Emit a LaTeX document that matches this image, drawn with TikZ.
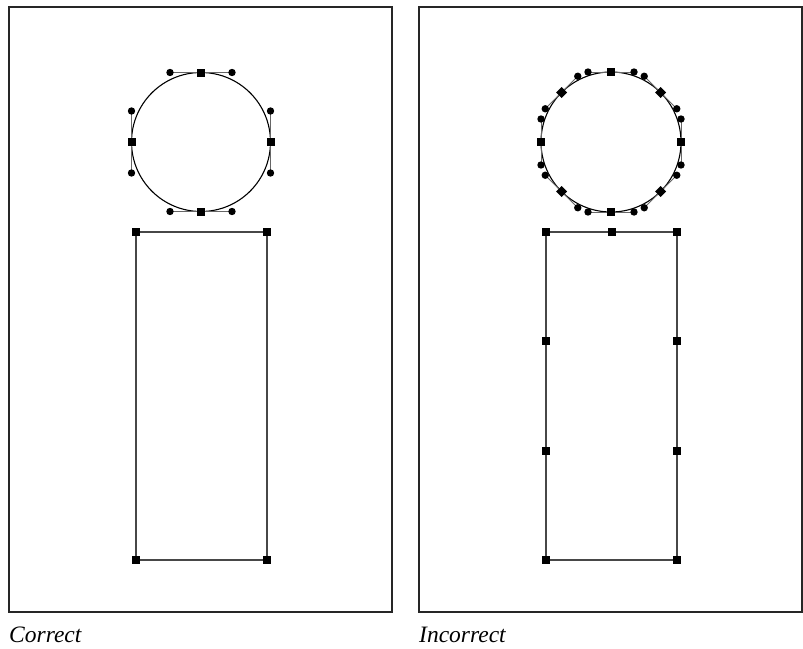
\documentclass[tikz,border=0pt]{standalone}
\usepackage{fontspec}
\newfontfamily\capfont{Liberation Serif}
\usetikzlibrary{calc}
\tikzset{
  frame/.style={line width=1.1pt, color=black!85},
  outline/.style={line width=1.3pt, color=black!72},
  handle/.style={line width=1pt, color=black!60},
  caption/.style={font=\capfont\fontsize{23.5}{27}\selectfont\itshape, anchor=base west, inner sep=0pt},
}
\newcommand{\knotsq}[1]{\fill #1 +(-4,-4) rectangle +(4,4);}
\newcommand{\knotdm}[1]{\fill #1 +(-5.5,0) -- +(0,-5.5) -- +(5.5,0) -- +(0,5.5) -- cycle;}
\newcommand{\ctrldot}[1]{\fill #1 circle (3.7);}
\begin{document}
\begin{tikzpicture}[x=1pt,y=-1pt]
  \useasboundingbox (0,0) rectangle (803,648);
  % panels
  \draw[frame] (9,7) rectangle (392,612);
  \draw[frame] (419,7) rectangle (802,612);
  \node[caption] (correct) at (9,642) {Correct};
  \node[caption] (incorrect) at (419,642) {Incorrect};

  % left: circle from four segments
  \draw[line width=1.1pt] (201,142) circle (69.5);
  \foreach \a in {0,90,180,270} {
    \draw[handle] ($(201,142)+(\a:69.5)+(\a+90:31)$) -- ($(201,142)+(\a:69.5)+(\a-90:31)$);
    \ctrldot{($(201,142)+(\a:69.5)+(\a+90:31)$)}
    \ctrldot{($(201,142)+(\a:69.5)+(\a-90:31)$)}
    \knotsq{($(201,142)+(\a:69.5)$)}
  }
  \draw[outline] (136,232) rectangle (267,560);
  \foreach \x/\y in {136/232,267/232,136/560,267/560} {
    \knotsq{(\x,\y)}
  }

  % right: circle from eight segments
  \draw[line width=1.1pt] (611,142) circle (70);
  \foreach \a in {0,45,...,315} {
    \draw[handle] ($(611,142)+(\a:70)+(\a+90:23)$) -- ($(611,142)+(\a:70)+(\a-90:23)$);
    \ctrldot{($(611,142)+(\a:70)+(\a+90:23)$)}
    \ctrldot{($(611,142)+(\a:70)+(\a-90:23)$)}
  }
  \foreach \a in {0,90,180,270} {
    \knotsq{($(611,142)+(\a:70)$)}
  }
  \foreach \a in {45,135,225,315} {
    \knotdm{($(611,142)+(\a:70)$)}
  }
  \draw[outline] (546,232) rectangle (677,560);
  \foreach \x/\y in {546/232,611.5/232,677/232,546/341,677/341,546/450.7,677/450.7,546/560,677/560} {
    \knotsq{(\x,\y)}
  }
\end{tikzpicture}
\end{document}
